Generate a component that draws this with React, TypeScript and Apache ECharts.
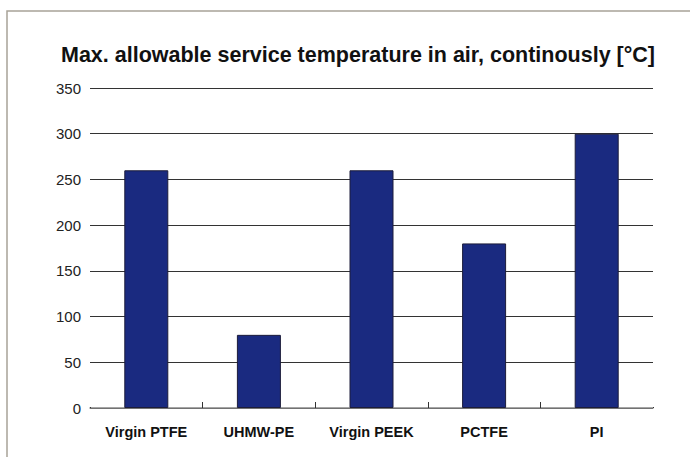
import React, { useEffect, useRef } from "react";
import * as echarts from "echarts";

const categories = ["Virgin PTFE", "UHMW-PE", "Virgin PEEK", "PCTFE", "PI"];
const values = [260, 80, 260, 180, 300];
const titleText = "Max. allowable service temperature in air, continously [°C]";

export default function App() {
  const ref = useRef<HTMLDivElement>(null);
  useEffect(() => {
    const chart = echarts.init(ref.current!, null, { renderer: "svg" });
    chart.setOption({
      animation: false,
      backgroundColor: "#ffffff",
      textStyle: { fontFamily: "Liberation Sans, Arial, sans-serif" },
      title: {
        text: titleText,
        left: 353,
        textAlign: "center",
        top: 39,
        textStyle: { fontSize: 21.5, fontWeight: "bold", color: "#111", fontFamily: "Liberation Sans, Arial, sans-serif" },
      },
      graphic: [
        {
          type: "rect",
          shape: { x: 7, y: 11, width: 800, height: 600 },
          style: { fill: "none", stroke: "#a8a398", lineWidth: 1.5 },
          silent: true,
        },
        {
          type: "rect",
          shape: { x: 87, y: 400, width: 6, height: 7 },
          style: { fill: "#ffffff" },
          z: 100,
          silent: true,
        },
        {
          type: "rect",
          shape: { x: 650, y: 400, width: 6, height: 7 },
          style: { fill: "#ffffff" },
          z: 100,
          silent: true,
        },
      ],
      grid: { left: 90, right: 37, top: 88, bottom: 49 },
      xAxis: {
        type: "category",
        data: categories,
        axisLine: { lineStyle: { color: "#888", width: 1.5 } },
        axisTick: {
          show: true,
          inside: true,
          length: 6,
          interval: 0,
          lineStyle: { color: "#333", width: 1 },
        },
        axisLabel: { margin: 16, fontSize: 14.5, fontWeight: "bold", color: "#111" },
      },
      yAxis: {
        type: "value",
        min: 0,
        max: 350,
        interval: 50,
        axisLine: { show: false },
        axisTick: { show: false },
        axisLabel: { margin: 9, fontSize: 15, color: "#222" },
        splitLine: { lineStyle: { color: "#333", width: 1 } },
      },
      series: [
        {
          type: "bar",
          data: values,
          barWidth: 44,
          itemStyle: { color: "#1a2a80", borderColor: "#1c1c3a", borderWidth: 1 },
          z: 3,
        },
      ],
    });
    return () => chart.dispose();
  }, []);
  return <div ref={ref} style={{ position: "fixed", left: 0, top: 0, width: 690, height: 457 }} />;
}
